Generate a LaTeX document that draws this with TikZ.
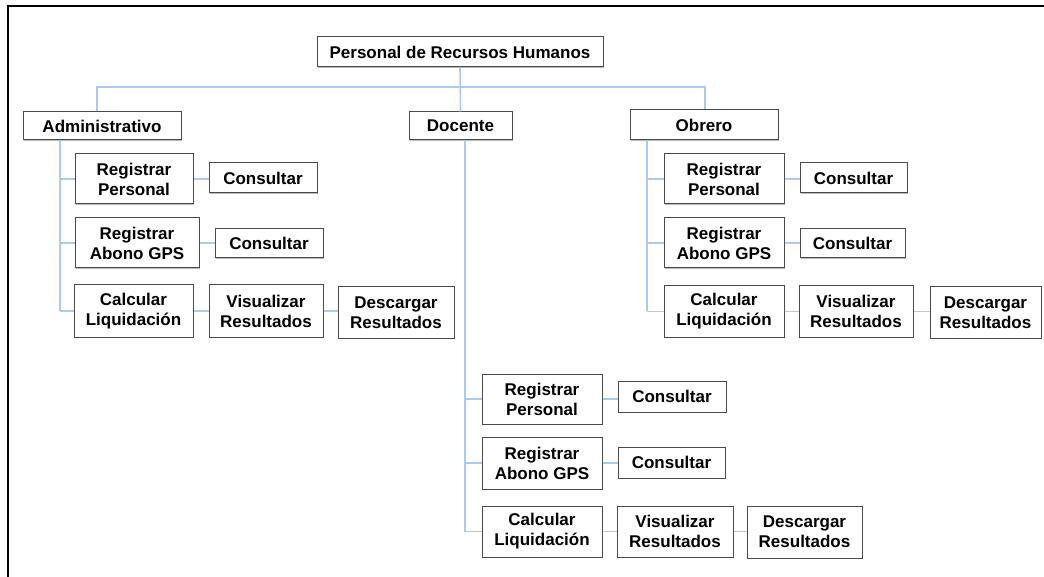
\documentclass[tikz,border=0pt]{standalone}
\usepackage{fontspec}
\setmainfont{Liberation Sans}
\usetikzlibrary{shadows}
\definecolor{connblue}{HTML}{A8CBEE}
\definecolor{boxline}{HTML}{4A4A4A}
\begin{document}
\begin{tikzpicture}[x=1pt,y=-1pt,
  box/.style={draw=boxline, line width=1pt, fill=white, inner sep=0pt, align=center,
    font=\fontsize{17}{20}\selectfont\bfseries,
    drop shadow={shadow xshift=1.3pt, shadow yshift=-1.3pt, fill=black!28, opacity=1}},
  conn/.style={draw=connblue, line width=1.6pt},
  frame/.style={draw=black, line width=2pt}]
\useasboundingbox (0,0) rectangle (1044,577);
\draw[frame] (8,577) -- (8,6) -- (1044,6);

% top levels
\node[box, minimum width=286pt, minimum height=30pt] (root) at (460,52) {Personal de Recursos Humanos};
\node[box, minimum width=158pt, minimum height=28pt] (adm) at (102,126) {Administrativo};
\node[box, minimum width=103pt, minimum height=28pt] (doc) at (460.5,126) {Docente};
\node[box, minimum width=148pt, minimum height=30pt] (obr) at (704,125) {Obrero};

% Administrativo
\node[box, minimum width=118pt, minimum height=50pt] (a1) at (134,179) {Registrar\\Personal};
\node[box, minimum width=108pt, minimum height=30pt] (a1c) at (263,178) {Consultar};
\node[box, minimum width=124pt, minimum height=50pt] (a2) at (137,243) {Registrar\\Abono GPS};
\node[box, minimum width=108pt, minimum height=29pt] (a2c) at (269,243.5) {Consultar};
\node[box, minimum width=119pt, minimum height=52pt] (a3) at (133.5,311) {Calcular\\Liquidación};
\node[box, minimum width=114pt, minimum height=52pt] (a3v) at (266,311) {Visualizar\\Resultados};
\node[box, minimum width=116pt, minimum height=51pt] (a3d) at (396,312.5) {Descargar\\Resultados};

% Docente
\node[box, minimum width=120pt, minimum height=50pt] (d1) at (542,399) {Registrar\\Personal};
\node[box, minimum width=108pt, minimum height=31pt] (d1c) at (672,396.5) {Consultar};
\node[box, minimum width=120pt, minimum height=52pt] (d2) at (542,463) {Registrar\\Abono GPS};
\node[box, minimum width=107pt, minimum height=31pt] (d2c) at (671.5,462.5) {Consultar};
\node[box, minimum width=120pt, minimum height=51pt] (d3) at (542,531.5) {Calcular\\Liquidación};
\node[box, minimum width=116pt, minimum height=51pt] (d3v) at (675,531.5) {Visualizar\\Resultados};
\node[box, minimum width=115pt, minimum height=52pt] (d3d) at (804.5,532) {Descargar\\Resultados};

% Obrero
\node[box, minimum width=120pt, minimum height=50pt] (o1) at (724,179) {Registrar\\Personal};
\node[box, minimum width=107pt, minimum height=30pt] (o1c) at (853.5,178) {Consultar};
\node[box, minimum width=120pt, minimum height=50pt] (o2) at (724,243) {Registrar\\Abono GPS};
\node[box, minimum width=105pt, minimum height=29pt] (o2c) at (852.5,243.5) {Consultar};
\node[box, minimum width=120pt, minimum height=51pt] (o3) at (724,311.5) {Calcular\\Liquidación};
\node[box, minimum width=114pt, minimum height=51pt] (o3v) at (856,311.5) {Visualizar\\Resultados};
\node[box, minimum width=111pt, minimum height=51pt] (o3d) at (985.5,312.5) {Descargar\\Resultados};

% connectors (behind boxes is fine since they end at edges)
\coordinate (busL) at (97,87);
\coordinate (busR) at (705,87);
\coordinate (as) at (60,0);
\coordinate (ds) at (465,0);
\coordinate (os) at (647,0);

\draw[conn] (root.south) -- (doc.north);
\draw[conn] (adm.north -| busL) -- (busL) -- (busR) -- (obr.north -| busR);

\draw[conn] (adm.south -| as) -- (a3.west -| as);
\foreach \n in {a1,a2,a3} \draw[conn] (\n.west -| as) -- (\n.west);
\draw[conn] (a1.east) -- (a1.east -| a1c.west);
\draw[conn] (a2.east) -- (a2.east -| a2c.west);
\draw[conn] (a3.east) -- (a3.east -| a3v.west);
\draw[conn] (a3v.east) -- (a3v.east -| a3d.west);

\draw[conn] (doc.south -| ds) -- (d3.west -| ds);
\foreach \n in {d1,d2,d3} \draw[conn] (\n.west -| ds) -- (\n.west);
\draw[conn] (d1.east) -- (d1.east -| d1c.west);
\draw[conn] (d2.east) -- (d2.east -| d2c.west);
\draw[conn] (d3.east) -- (d3.east -| d3v.west);
\draw[conn] (d3v.east) -- (d3v.east -| d3d.west);

\draw[conn] (obr.south -| os) -- (o3.west -| os);
\foreach \n in {o1,o2,o3} \draw[conn] (\n.west -| os) -- (\n.west);
\draw[conn] (o1.east) -- (o1.east -| o1c.west);
\draw[conn] (o2.east) -- (o2.east -| o2c.west);
\draw[conn] (o3.east) -- (o3.east -| o3v.west);
\draw[conn] (o3v.east) -- (o3v.east -| o3d.west);
\end{tikzpicture}
\end{document}
